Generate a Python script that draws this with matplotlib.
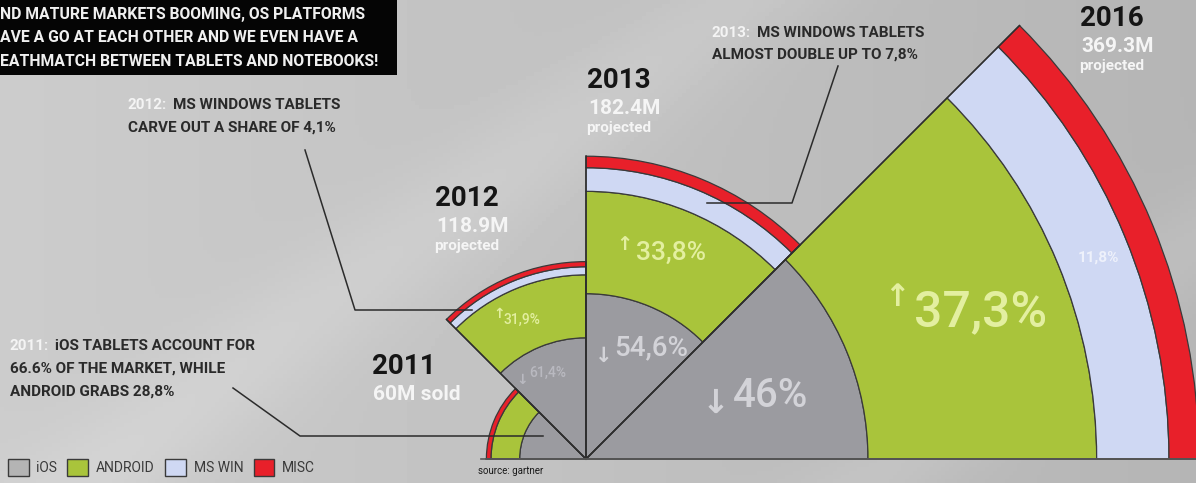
"""
Tablet OS market share fan chart (2011-2016), source: Gartner.
"""
import numpy as np
import matplotlib.pyplot as plt
from matplotlib import font_manager
from matplotlib.patches import Wedge, Patch

W, H = 1196, 483

# data
years = ['2011', '2012', '2013', '2016']
units = [60.0, 118.9, 182.4, 369.3]          # millions of tablets
unit_labels = ['60M sold', '118.9M', '182.4M', '369.3M']
ios = [66.6, 61.4, 54.6, 46.0]
android = [28.8, 31.9, 33.8, 37.3]
mswin = [0.0, 4.1, 7.8, 11.8]
misc = [4.6, 2.6, 3.8, 4.9]

os_names = ['iOS', 'ANDROID', 'MS WIN', 'MISC']
os_colors = ['#9b9ba0', '#a9c43b', '#cfd8f3', '#e8202a']

# fonts
names = {f.name for f in font_manager.fontManager.ttflist}
NARROW = 'Liberation Sans Narrow' if 'Liberation Sans Narrow' in names else 'Roboto'
FONT = ['Roboto', 'DejaVu Sans']
ARROW = ['DejaVu Sans']

fig = plt.figure(figsize=(W / 100, H / 100), dpi=100)
ax = fig.add_axes([0, 0, 1, 1])
ax.set_xlim(0, W)
ax.set_ylim(0, H)
ax.axis('off')


def Y(y):
    # image row -> axis y
    return H - y


# background: grey gradient with soft diagonal bands
xx, yy = np.meshgrid(np.linspace(0, 1, 300), np.linspace(0, 1, 120))
d = xx * 1.0 + yy * 0.55
bg = 0.80 - 0.09 * xx + 0.035 * np.exp(-((d - 0.62) / 0.08) ** 2) \
    + 0.03 * np.exp(-((d - 1.28) / 0.07) ** 2)
ax.imshow(bg, extent=(0, W, 0, H), cmap='gray', vmin=0, vmax=1,
          aspect='auto', zorder=0, origin='upper')

# fan of wedges
cx, cy = 586, Y(459)
scale = 1.66  # px per million tablets
for i, yr in enumerate(years):
    R = units[i] * scale
    t1 = 180 - 45 * (i + 1)
    t2 = 180 - 45 * i
    shares = [ios[i], android[i], mswin[i], misc[i]]
    cum = np.cumsum(shares) / 100.0
    inner = 0.0
    for share, c, col in zip(shares, cum, os_colors):
        if share <= 0:
            continue
        r_out = R * c
        ax.add_patch(Wedge((cx, cy), r_out, t1, t2, width=r_out - inner,
                           facecolor=col, edgecolor='#3a3a3a', lw=0.9, zorder=2))
        inner = r_out
    # radial edges
    for t in (t1, t2):
        ax.plot([cx, cx + R * np.cos(np.radians(t))],
                [cy, cy + R * np.sin(np.radians(t))],
                color='#2e2e2e', lw=1.1, zorder=3)

ax.plot([cx - units[0] * scale - 5, cx + units[-1] * scale + 5], [cy, cy],
        color='#5a5a5a', lw=1.2, zorder=3)

# percentage labels inside wedges
grey_txt = '#d3d3d8'
green_txt = '#e3efa0'
labels = [
    # arrow, value, arrow pos, value pos, arrow size, value size, color
    ('\u2193', '61,4%', (516, 380), (529, 373), 10, 10, '#b9b9c0'),
    ('\u2191', '31,9%', (493, 314), (504, 320), 10, 10, green_txt),
    ('\u2193', '54,6%', (595, 356), (614, 348), 15, 20, grey_txt),
    ('\u2191', '33,8%', (616, 244), (636, 253), 14, 19, green_txt),
    ('\u2193', '46%', (702, 403), (733, 396), 24, 29, grey_txt),
    ('\u2191', '37,3%', (884, 298), (914, 312), 22, 36, green_txt),
]
for arr, val, apos, vpos, asz, vsz, col in labels:
    ax.text(apos[0], Y(apos[1]), arr, fontsize=asz, color=col, family=ARROW,
            fontweight='bold', ha='left', va='center', zorder=4)
    ax.text(vpos[0], Y(vpos[1]), val, fontsize=vsz, color=col, family=FONT,
            fontweight='medium', ha='left', va='center', zorder=4)
ax.text(1078, Y(258), '11,8%', fontsize=11, color='#eef1fb', family=FONT,
        fontweight='bold', ha='left', va='center', zorder=4)

# year titles
year_pos = [(372, 366), (435, 198), (587, 80), (1080, 18)]
for i, yr in enumerate(years):
    x0, y0 = year_pos[i]
    ax.text(x0, Y(y0), yr, fontsize=20, fontweight='bold', color='#151515',
            family=FONT, ha='left', va='center', zorder=4)
    ax.text(x0 + 1, Y(y0 + 28), unit_labels[i], fontsize=15, fontweight='bold',
            color='#f5f5f5', family=FONT, ha='left', va='center', zorder=4)
    if i > 0:
        ax.text(x0 - 1, Y(y0 + 48), 'projected', fontsize=11, fontweight='bold',
                color='#f5f5f5', family=FONT, ha='left', va='center', zorder=4)

# callouts
note_col = '#2a2a2a'
NOTE_SIZE = 11


def note(x, y, tag, first, rest, lh=23, gap=45):
    ax.text(x, Y(y), tag, fontsize=NOTE_SIZE, fontweight='bold', color='#f4f4f4',
            family=NARROW, ha='left', va='center', zorder=4)
    ax.text(x + gap, Y(y), first, fontsize=NOTE_SIZE, fontweight='bold',
            color=note_col, family=NARROW, ha='left', va='center', zorder=4)
    for k, line in enumerate(rest):
        ax.text(x, Y(y + lh * (k + 1)), line, fontsize=NOTE_SIZE, fontweight='bold',
                color=note_col, family=NARROW, ha='left', va='center', zorder=4)


note(128, 105, '2012:', 'MS WINDOWS TABLETS', ['CARVE OUT A SHARE OF 4,1%'], lh=23)
note(712, 33, '2013:', 'MS WINDOWS TABLETS', ['ALMOST DOUBLE UP TO 7,8%'], lh=22)
note(10, 346, '2011:', 'iOS TABLETS ACCOUNT FOR',
     ['66.6% OF THE MARKET, WHILE', 'ANDROID GRABS 28,8%'], lh=23, gap=45)

lead = dict(color='#2b2b2b', lw=1.1, zorder=5)
ax.plot([305, 355, 472], [Y(150), Y(310), Y(310)], **lead)
ax.plot([838, 792, 707], [Y(66), Y(203), Y(203)], **lead)
ax.plot([233, 300, 543], [Y(388), Y(436), Y(436)], **lead)

# top-left black banner
ax.add_patch(plt.Rectangle((0, Y(75)), 397, 75, facecolor='#050505',
                           edgecolor='none', zorder=4))
banner = ['ND MATURE MARKETS BOOMING, OS PLATFORMS',
          'AVE A GO AT EACH OTHER AND WE EVEN HAVE A',
          'EATHMATCH BETWEEN TABLETS AND NOTEBOOKS!']
for k, line in enumerate(banner):
    ax.text(0, Y(15 + 23 * k), line, fontsize=11.3, fontweight='bold',
            color='#f0f0f0', family=NARROW, ha='left', va='center', zorder=5)

# legend
handles = [Patch(facecolor=c if n != 'iOS' else '#b4b4b4', edgecolor='#3a3a3a',
                 lw=1.0, label=n) for n, c in zip(os_names, os_colors)]
leg = ax.legend(handles=handles, loc='lower left', bbox_to_anchor=(-0.004, -0.012),
                ncol=4, frameon=False, handlelength=1.5, handleheight=1.5,
                handletextpad=0.55, columnspacing=0.75,
                prop={'family': NARROW, 'size': 10})
for t in leg.get_texts():
    t.set_color('#3a3a3a')

ax.text(478, Y(471), 'source: gartner', fontsize=7, color='#1a1a1a',
        family=NARROW, ha='left', va='center', zorder=4)

fig.savefig('out.png', dpi=100)
